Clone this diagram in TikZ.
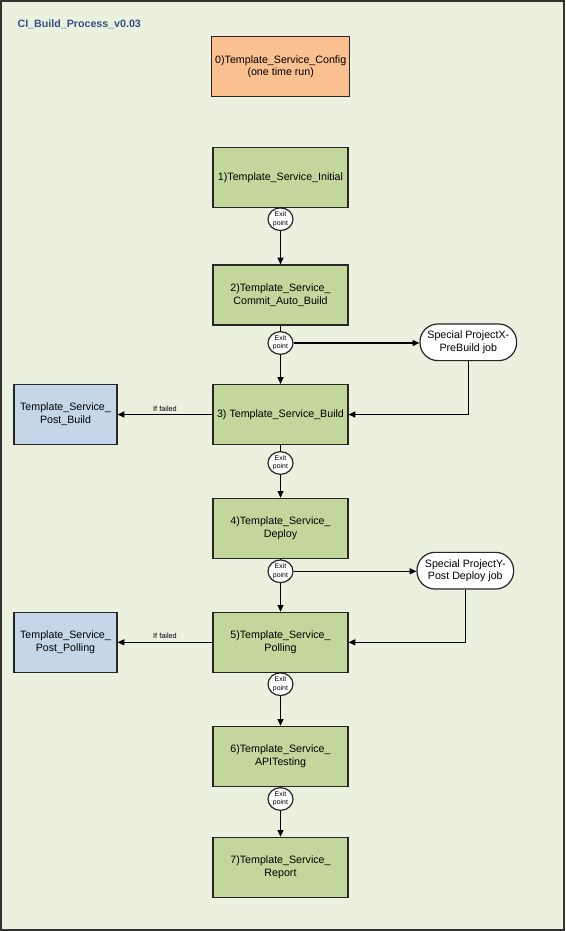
\documentclass[tikz,border=0pt]{standalone}
\usepackage{fontspec}
\setmainfont{Liberation Sans}
\usetikzlibrary{arrows.meta,shapes.geometric}
\definecolor{pagebg}{HTML}{EBF1DE}
\definecolor{jobgreen}{HTML}{C3D69B}
\definecolor{cfgorange}{HTML}{FAC090}
\definecolor{postblue}{HTML}{C6D6E9}
\definecolor{titleblue}{HTML}{2F5283}
\begin{document}
\begin{tikzpicture}[x=0.75pt,y=-0.75pt,
  >={Triangle[length=5pt,width=4.5pt]},
  every path/.style={line width=0.9pt},
  job/.style={draw=black!85,fill=jobgreen,minimum width=101.25pt,minimum height=45pt,
    align=center,inner sep=1pt,font=\fontsize{8}{9.5}\selectfont},
  cfg/.style={job,fill=cfgorange,minimum width=103.5pt},
  post/.style={job,fill=postblue,minimum width=77.25pt},
  special/.style={draw=black!85,fill=white,rounded corners=13.5pt,minimum width=72.5pt,
    minimum height=27.5pt,align=center,inner sep=1pt,font=\fontsize{8}{9.5}\selectfont},
  exitpt/.style={ellipse,draw=black!85,fill=white,minimum width=18.75pt,minimum height=17pt,
    inner sep=0pt,align=center,font=\fontsize{5.2}{6.2}\selectfont},
  fail/.style={font=\fontsize{5.5}{6.5}\selectfont,inner sep=2pt}]
\useasboundingbox (0,0) rectangle (565,931);
\fill[pagebg] (0,0) rectangle (565,931);
\draw[line width=1.5pt,black!80] (1,1) rectangle (563.5,929.8);

\node[anchor=west,inner sep=0pt,text=titleblue,font=\bfseries\fontsize{8}{9.6}\selectfont] (title) at (17,24.5) {CI\_Build\_Process\_v0.03};

\node[cfg] (b0) at (280.7,66.7) {0)Template\_Service\_Config\\(one time run)};
\node[job] (b1) at (280.5,177.5) {1)Template\_Service\_Initial};
\node[job] (b2) at (280.5,295)   {2)Template\_Service\_\\Commit\_Auto\_Build};
\node[job] (b3) at (280.5,414.5) {3) Template\_Service\_Build};
\node[job] (b4) at (280.5,528.3) {4)Template\_Service\_\\Deploy};
\node[job] (b5) at (280.5,642.3) {5)Template\_Service\_\\Polling};
\node[job] (b6) at (280.5,756.3) {6)Template\_Service\_\\APITesting};
\node[job] (b7) at (280.5,867.3) {7)Template\_Service\_\\Report};

\node[post] (pb) at (65.5,414.5) {Template\_Service\_\\Post\_Build};
\node[post] (pp) at (65.5,642.3) {Template\_Service\_\\Post\_Polling};

\node[special] (px) at (468.3,342.3) {Special ProjectX-\\PreBuild job};
\node[special] (py) at (465.3,570.7) {Special ProjectY-\\Post Deploy job};

\node[exitpt] (e1) at (280.5,219.2) {Exit\\point};
\node[exitpt] (e2) at (280.5,343)   {Exit\\point};
\node[exitpt] (e3) at (280.5,463)   {Exit\\point};
\node[exitpt] (e4) at (280.5,571.3) {Exit\\point};
\node[exitpt] (e5) at (280.5,684.2) {Exit\\point};
\node[exitpt] (e6) at (280.5,799)   {Exit\\point};

\draw (b1) -- (e1);
\draw (b2) -- (e2);
\draw (b3) -- (e3);
\draw (b4) -- (e4);
\draw (b5) -- (e5);
\draw (b6) -- (e6);

\draw [->] (e1) -- (b2);
\draw [->] (e2) -- (b3);
\draw [->] (e3) -- (b4);
\draw [->] (e4) -- (b5);
\draw [->] (e5) -- (b6);
\draw [->] (e6) -- (b7);

\draw [->] (e2.east) -- (e2.east -| px.west);
\draw [->] (px.south) |- (b3.east);
\draw [->] (e4.east) -- (e4.east -| py.west);
\draw [->] (py.south) |- (b5.east);

\draw [->] (b3) -- node[above,fail] {If failed} (pb);
\draw [->] (b5) -- node[above,fail] {If failed} (pp);
\end{tikzpicture}
\end{document}
